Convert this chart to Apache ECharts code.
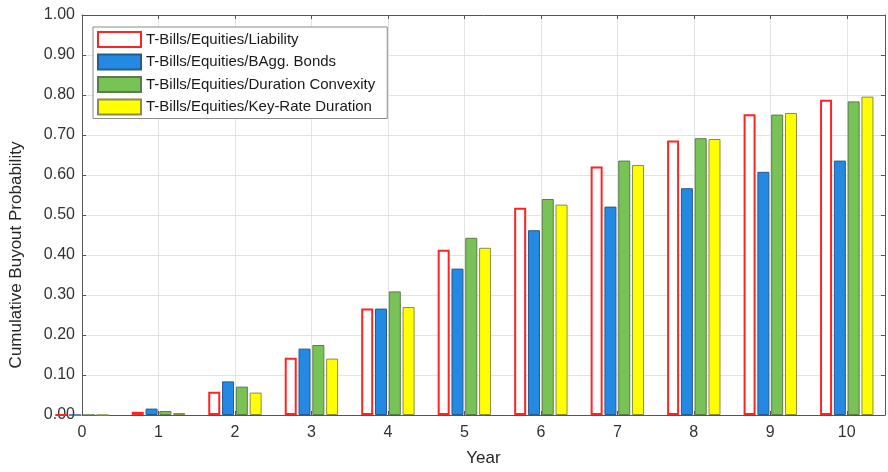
<!DOCTYPE html>
<html><head><meta charset="utf-8">
<script src="https://cdn.jsdelivr.net/npm/echarts@6/dist/echarts.min.js"></script>
<style>html,body{margin:0;padding:0;background:#fff}#c{width:888px;height:472px}</style>
</head><body><div id="c"></div>
<script>
const years = [0, 1, 2, 3, 4, 5, 6, 7, 8, 9, 10];
const seriesNames = [
  'T-Bills/Equities/Liability',
  'T-Bills/Equities/BAgg. Bonds',
  'T-Bills/Equities/Duration Convexity',
  'T-Bills/Equities/Key-Rate Duration'
];
const liability         = [0, 0.008, 0.058, 0.143, 0.266, 0.413, 0.518, 0.621, 0.686, 0.752, 0.788];
const aggBonds          = [0, 0.016, 0.084, 0.166, 0.266, 0.366, 0.462, 0.521, 0.567, 0.608, 0.636];
const durationConvexity = [0, 0.010, 0.071, 0.175, 0.309, 0.443, 0.540, 0.636, 0.692, 0.751, 0.784];
const keyRateDuration   = [0, 0.005, 0.056, 0.141, 0.270, 0.418, 0.526, 0.625, 0.690, 0.755, 0.796];
const xAxisName = 'Year';
const yAxisName = 'Cumulative Buyout Probability';

const values = [liability, aggBonds, durationConvexity, keyRateDuration];
const styles = [
  {color: '#ffffff', borderColor: '#ff2424', borderWidth: 2},
  {color: '#2389e2', borderColor: '#2a5a8c', borderWidth: 1},
  {color: '#78c356', borderColor: '#5c7a4c', borderWidth: 1},
  {color: '#ffff00', borderColor: '#8c8c4a', borderWidth: 1}
];
const FONT = 'Liberation Sans, Arial, sans-serif';
const chart = echarts.init(document.getElementById('c'), null, {renderer: 'canvas'});
const axisLineStyle = {color: '#555555', width: 1};
chart.setOption({
  animation: false,
  backgroundColor: '#ffffff',
  grid: {left: 79, right: 3, top: 15, bottom: 54, show: false},
  legend: {
    orient: 'vertical', left: 93, top: 27,
    itemWidth: 43, itemHeight: 15, itemGap: 5.5,
    padding: [4, 12, 3, 4],
    borderColor: '#8a8a8a', borderWidth: 1, backgroundColor: '#ffffff',
    icon: 'rect',
    textStyle: {fontFamily: FONT, fontSize: 15, color: '#1a1a1a'},
    data: seriesNames
  },
  xAxis: [{
    type: 'value', min: 0, max: 10.5, interval: 1,
    name: xAxisName, nameLocation: 'middle', nameGap: 35,
    nameTextStyle: {fontFamily: FONT, fontSize: 17, color: '#262626'},
    axisLine: {show: true, lineStyle: axisLineStyle},
    axisTick: {show: true, inside: true, length: 4, lineStyle: axisLineStyle},
    axisLabel: {fontFamily: FONT, fontSize: 16, color: '#333333', margin: 10,
      formatter: v => Number.isInteger(v) ? String(v) : ''},
    splitLine: {show: true, lineStyle: {color: '#e3e3e3', width: 1}}
  }, {
    type: 'value', min: 0, max: 10.5, interval: 1, position: 'top',
    axisLine: {show: true, onZero: false, lineStyle: axisLineStyle},
    axisTick: {show: true, inside: true, length: 4, lineStyle: axisLineStyle},
    axisLabel: {show: false}, splitLine: {show: false}
  }],
  yAxis: [{
    type: 'value', min: 0, max: 1, interval: 0.1,
    name: yAxisName, nameLocation: 'middle', nameGap: 57, nameRotate: 90,
    nameTextStyle: {fontFamily: FONT, fontSize: 17, color: '#262626', padding: [0, 80, 0, 0]},
    axisLine: {show: true, lineStyle: axisLineStyle},
    axisTick: {show: true, inside: true, length: 4, lineStyle: axisLineStyle},
    axisLabel: {fontFamily: FONT, fontSize: 16, color: '#333333', margin: 7,
      formatter: v => v.toFixed(2)},
    splitLine: {show: true, lineStyle: {color: '#e3e3e3', width: 1}}
  }, {
    type: 'value', min: 0, max: 1, interval: 0.1, position: 'right',
    axisLine: {show: true, onZero: false, lineStyle: axisLineStyle},
    axisTick: {show: true, inside: true, length: 4, lineStyle: axisLineStyle},
    axisLabel: {show: false}, splitLine: {show: false}
  }],
  series: seriesNames.map((name, k) => ({
    name, type: 'bar', xAxisIndex: 0, yAxisIndex: 0,
    barWidth: 12, barGap: '15%',
    itemStyle: styles[k],
    data: years.map((x, i) => [x, values[k][i]])
  }))
});
</script></body></html>
